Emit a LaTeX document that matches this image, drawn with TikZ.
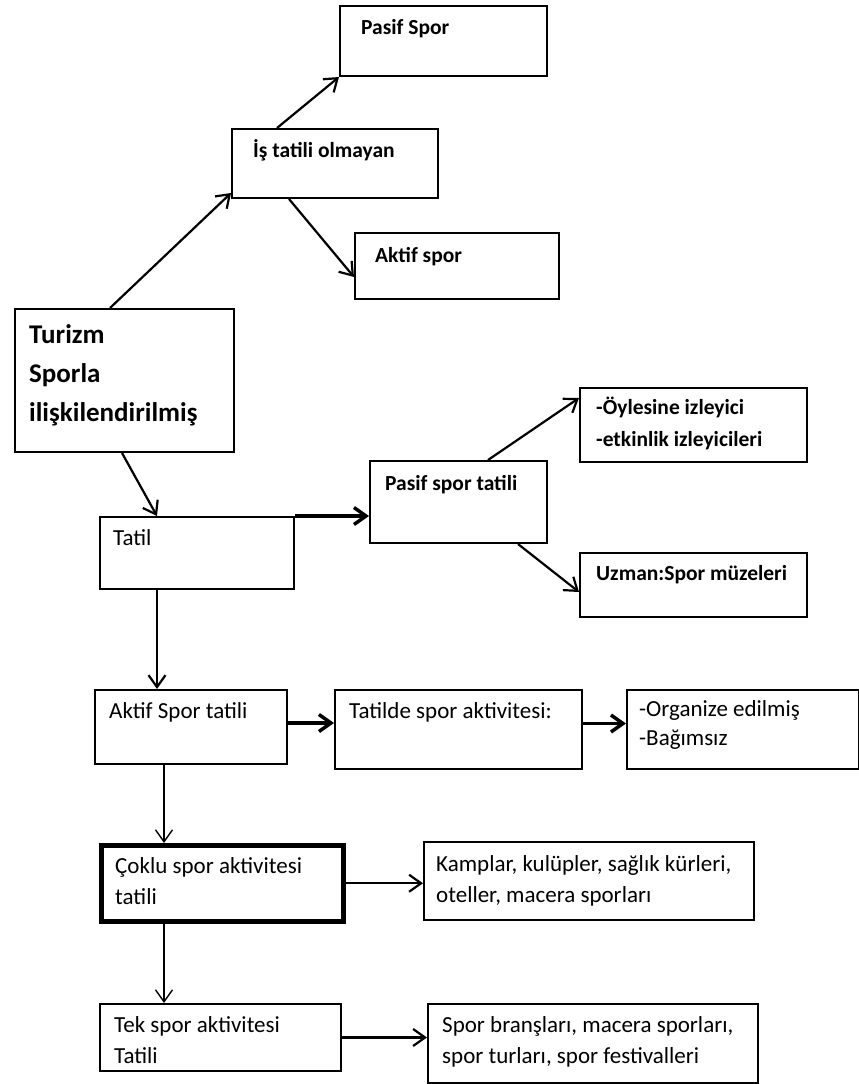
\documentclass[tikz,border=0pt]{standalone}
\usepackage{fontspec}
\setmainfont{Carlito}
\usetikzlibrary{arrows.meta}

\begin{document}
\begin{tikzpicture}[
    x = 1pt, y = -1pt,
    kutu/.style={draw, rectangle, line width=2pt, inner sep=0pt, anchor=north west},
    kalinkutu/.style={kutu, line width=4.5pt},
    yazi/.style={anchor=base west, align=left, inner sep=0pt, font=\fontsize{23}{31}\selectfont},
    ustyazi/.style={yazi, font=\bfseries\fontsize{21.5}{32}\selectfont},
    ok/.style={-{Straight Barb[length=12pt,width=17pt]}, line width=2.2pt},
    kalinok/.style={ok, line width=3.5pt},
    inceok/.style={ok, line width=1.4pt}
]
\useasboundingbox (0,0) rectangle (859,1084);

% kutular
\node[kutu, minimum width=207pt, minimum height=70pt] (pasifspor) at (339,5) {};
\node[kutu, minimum width=206pt, minimum height=69pt] (istatili) at (231,128) {};
\node[kutu, minimum width=204pt, minimum height=66pt] (aktifspor) at (354,232) {};
\node[kutu, minimum width=219pt, minimum height=143pt] (turizm) at (14,308) {};
\node[kutu, minimum width=194pt, minimum height=72pt] (tatil) at (99,516) {};
\node[kutu, minimum width=177pt, minimum height=82pt] (pasiftatil) at (369,460) {};
\node[kutu, minimum width=227pt, minimum height=74pt] (oylesine) at (579,387) {};
\node[kutu, minimum width=227pt, minimum height=64pt] (uzman) at (579,552) {};
\node[kutu, minimum width=192pt, minimum height=74pt] (aktiftatil) at (94,689) {};
\node[kutu, minimum width=247pt, minimum height=79pt] (tatilde) at (334,689) {};
\node[kutu, minimum width=232pt, minimum height=79pt] (organize) at (626,689) {};
\node[kalinkutu, minimum width=242pt, minimum height=76pt] (coklu) at (99,843) {};
\node[kutu, minimum width=330pt, minimum height=78pt] (kamplar) at (423,841) {};
\node[kutu, minimum width=241pt, minimum height=67pt] (tek) at (99,1003) {};
\node[kutu, minimum width=330pt, minimum height=79pt] (branslar) at (427,1003) {};

% yazilar (cok satirli dugumlerde base = son satir)
\node[ustyazi] (pasifspor-y) at ([shift={(22,29)}]pasifspor.north west) {Pasif Spor};
\node[ustyazi] (istatili-y) at ([shift={(22,29)}]istatili.north west) {İş tatili olmayan};
\node[ustyazi] (aktifspor-y) at ([shift={(21,30)}]aktifspor.north west) {Aktif spor};
\node[yazi, font=\bfseries\fontsize{27}{39}\selectfont] (turizm-y) at ([shift={(15,113)}]turizm.north west)
    {Turizm\\Sporla\\ilişkilendirilmiş};
\node[yazi] (tatil-y) at ([shift={(14,29)}]tatil.north west) {Tatil};
\node[ustyazi] (pasiftatil-y) at ([shift={(16,30)}]pasiftatil.north west) {Pasif spor tatili};
\node[ustyazi] (oylesine-y) at ([shift={(17,59)}]oylesine.north west) {-Öylesine izleyici\\-etkinlik izleyicileri};
\node[ustyazi] (uzman-y) at ([shift={(17,28)}]uzman.north west) {Uzman:Spor müzeleri};
\node[yazi] (aktiftatil-y) at ([shift={(15,29)}]aktiftatil.north west) {Aktif Spor tatili};
\node[yazi] (tatilde-y) at ([shift={(15,29)}]tatilde.north west) {Tatilde spor aktivitesi:};
\node[yazi, font=\fontsize{23}{29}\selectfont] (organize-y) at ([shift={(13,56)}]organize.north west)
    {-Organize edilmiş\\-Bağımsız};
\node[yazi] (coklu-y) at ([shift={(16,61)}]coklu.north west) {Çoklu spor aktivitesi\\tatili};
\node[yazi] (kamplar-y) at ([shift={(13,61)}]kamplar.north west)
    {Kamplar, kulüpler, sağlık kürleri,\\oteller, macera sporları};
\node[yazi] (tek-y) at ([shift={(15,60)}]tek.north west) {Tek spor aktivitesi\\Tatili};
\node[yazi] (branslar-y) at ([shift={(15,60)}]branslar.north west)
    {Spor branşları, macera sporları,\\spor turları, spor festivalleri};

% oklar
\coordinate (tatil-alt) at ([xshift=58pt]tatil.south west);
\coordinate (aktif-alt) at ([xshift=70pt]aktiftatil.south west);
\coordinate (coklu-alt) at ([xshift=65pt]coklu.south west);

\draw[ok] ([xshift=96pt]turizm.north west) -- ([yshift=6pt]istatili.south west);
\draw[ok] ([xshift=46pt]istatili.north west) -- (pasifspor.south west);
\draw[ok] ([xshift=58pt]istatili.south west) -- ([yshift=-45pt]aktifspor.north west);
\draw[ok] ([xshift=108pt]turizm.south west) -- ([xshift=58pt]tatil.north west);
\draw[kalinok] (tatil.north east) -- (tatil.north east -| pasiftatil.west);
\draw[ok] ([xshift=119pt]pasiftatil.north west) -- ([yshift=-11pt]oylesine.north west);
\draw[ok] ([xshift=149pt]pasiftatil.south west) -- ([yshift=-40pt]uzman.north west);
\draw[ok] (tatil-alt) -- (tatil-alt |- aktiftatil.north);
\draw[kalinok] ([yshift=4pt]aktiftatil.east) -- ([yshift=4pt]aktiftatil.east -| tatilde.west);
\draw[kalinok] ([yshift=6pt]tatilde.east) -- ([yshift=6pt]tatilde.east -| organize.west);
\draw[inceok] (aktif-alt) -- (aktif-alt |- coklu.north);
\draw[ok] (coklu.east) -- (coklu.east -| kamplar.west);
\draw[inceok] (coklu-alt) -- (coklu-alt |- tek.north);
\draw[ok] (tek.east) -- (tek.east -| branslar.west);
\end{tikzpicture}
\end{document}
